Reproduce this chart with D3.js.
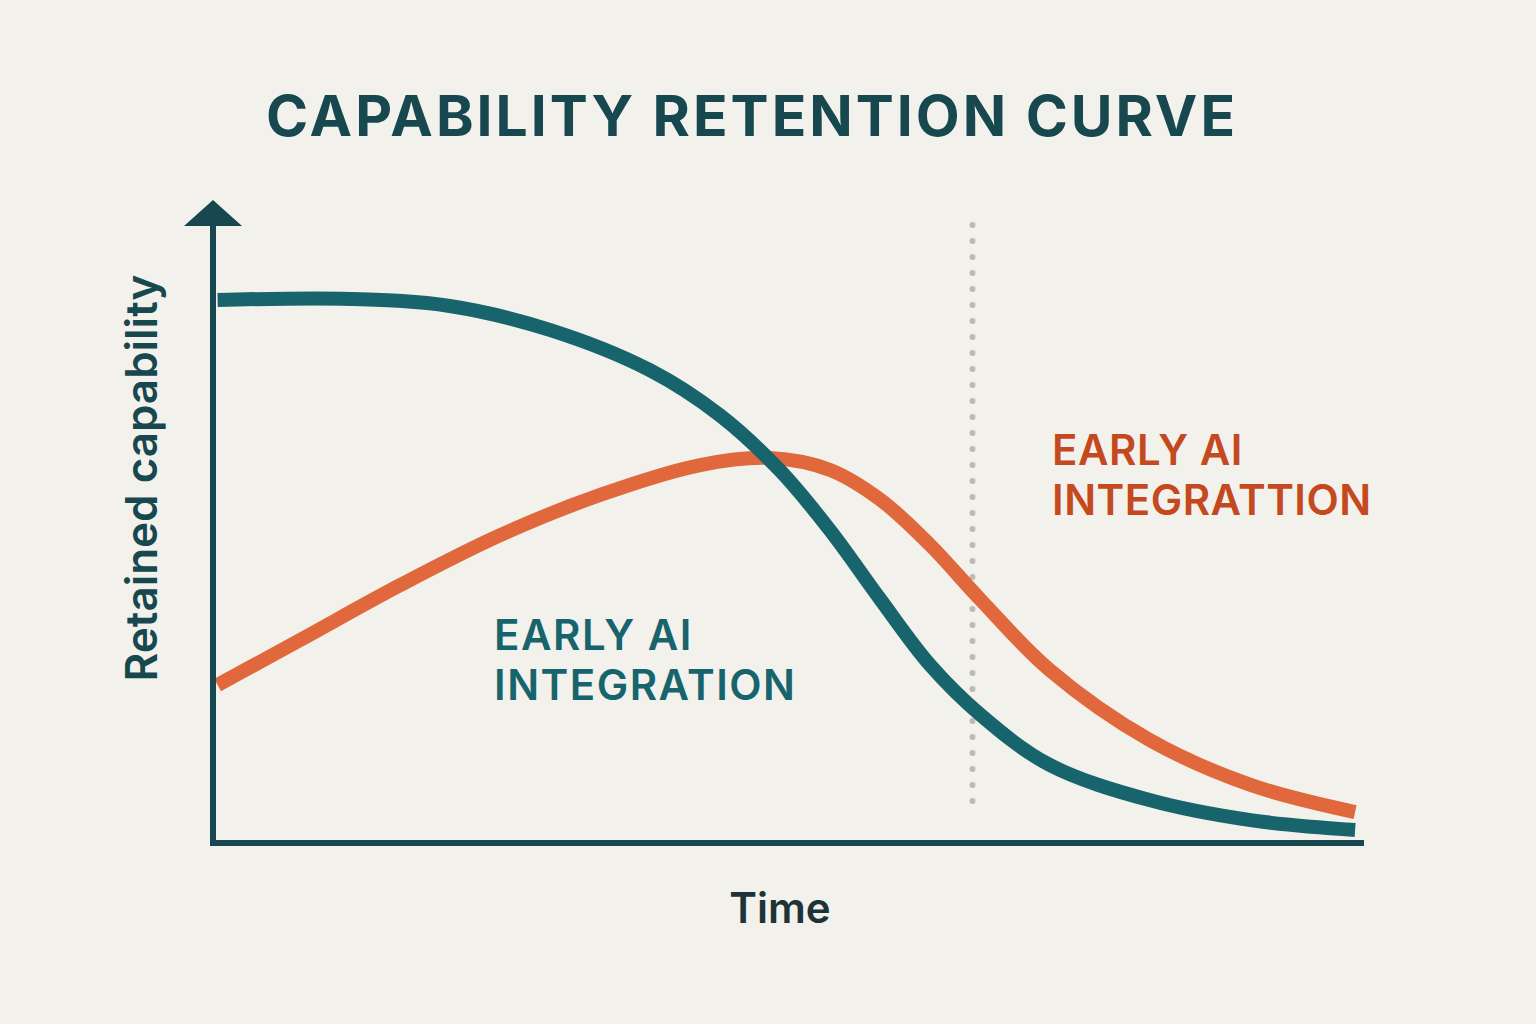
<!DOCTYPE html><html><head><meta charset="utf-8">
<script src="https://cdn.jsdelivr.net/npm/d3@7"></script>
<style>body{margin:0;background:#f3f1ec}</style></head><body>
<svg id="c" width="1536" height="1024"></svg>
<script>
const teal = {name:"EARLY AI INTEGRATION", x:[0.4,11.9,20.6,29.3,38.0,44.1,49.3,53.7,58.1,62.4,66.8,72.8,81.5,90.3,99.4],
  y:[100,100.2,98.9,94.5,87.1,78.8,68.7,57.6,44.8,32.8,23.6,14.4,7.9,4.2,2.4]};
const orange = {name:"EARLY AI INTEGRATTION", x:[0.4,7.6,16.3,25,33.7,42.4,48.5,53.7,58.1,62.4,66.8,72.8,81.5,90.3,99.4],
  y:[29.1,37.4,47.5,56.7,64.1,69.6,70.9,68.7,63.2,54.9,44.8,31.9,19.0,10.7,5.7]};
const marker = 66.1;
const title = "CAPABILITY RETENTION CURVE", xLabel = "Time", yLabel = "Retained capability";

const svg = d3.select("#c");
svg.append("rect").attr("width",1536).attr("height",1024).attr("fill","#f3f1ec");
const x = d3.scaleLinear().domain([0,100]).range([213,1362]);
const y = d3.scaleLinear().domain([0,100]).range([843,300]);
const dark="#17474f";
svg.append("text").attr("x",752).attr("y",136).attr("text-anchor","middle").attr("font-family","Inter, sans-serif")
  .attr("font-weight",700).attr("font-size",57).attr("letter-spacing",3).attr("fill",dark).text(title);
svg.append("line").attr("x1",x(marker)).attr("x2",x(marker)).attr("y1",225).attr("y2",815)
  .attr("stroke","#bdbbb6").attr("stroke-width",6).attr("stroke-linecap","round").attr("stroke-dasharray","0 16");
const line = d3.line().curve(d3.curveCatmullRom.alpha(0.5));
function draw(s,c){svg.append("path").attr("d",line(s.x.map((v,i)=>[x(v),y(s.y[i])]))).attr("fill","none")
  .attr("stroke",c).attr("stroke-width",14).attr("stroke-linecap","butt");}
draw(orange,"#e0683c"); draw(teal,"#17646c");
svg.append("line").attr("x1",213).attr("x2",213).attr("y1",222).attr("y2",846).attr("stroke",dark).attr("stroke-width",6);
svg.append("line").attr("x1",210).attr("x2",1364).attr("y1",843).attr("y2",843).attr("stroke",dark).attr("stroke-width",6);
svg.append("path").attr("d","M184,226 L213,200 L242,226 Z").attr("fill",dark);
svg.append("text").attr("x",780).attr("y",923).attr("text-anchor","middle").attr("font-family","Inter, sans-serif")
  .attr("font-weight",600).attr("font-size",42).attr("fill","#1d3338").text(xLabel);
svg.append("text").attr("transform","translate(157,478) rotate(-90)").attr("text-anchor","middle").attr("font-family","Inter, sans-serif")
  .attr("font-weight",600).attr("font-size",44).attr("fill",dark).text(yLabel);
function lab(px,py,lines,c,ls){const t=svg.append("text").attr("font-family","Inter, sans-serif").attr("font-weight",600)
  .attr("font-size",42).attr("letter-spacing",ls).attr("fill",c);
  lines.forEach((l,i)=>t.append("tspan").attr("x",px).attr("y",py+i*50).text(l));}
lab(494,650,["EARLY AI","INTEGRATION"],"#17646c",1.5);
lab(1052,465,["EARLY AI","INTEGRATTION"],"#c4491e",0.5);
</script></body></html>
